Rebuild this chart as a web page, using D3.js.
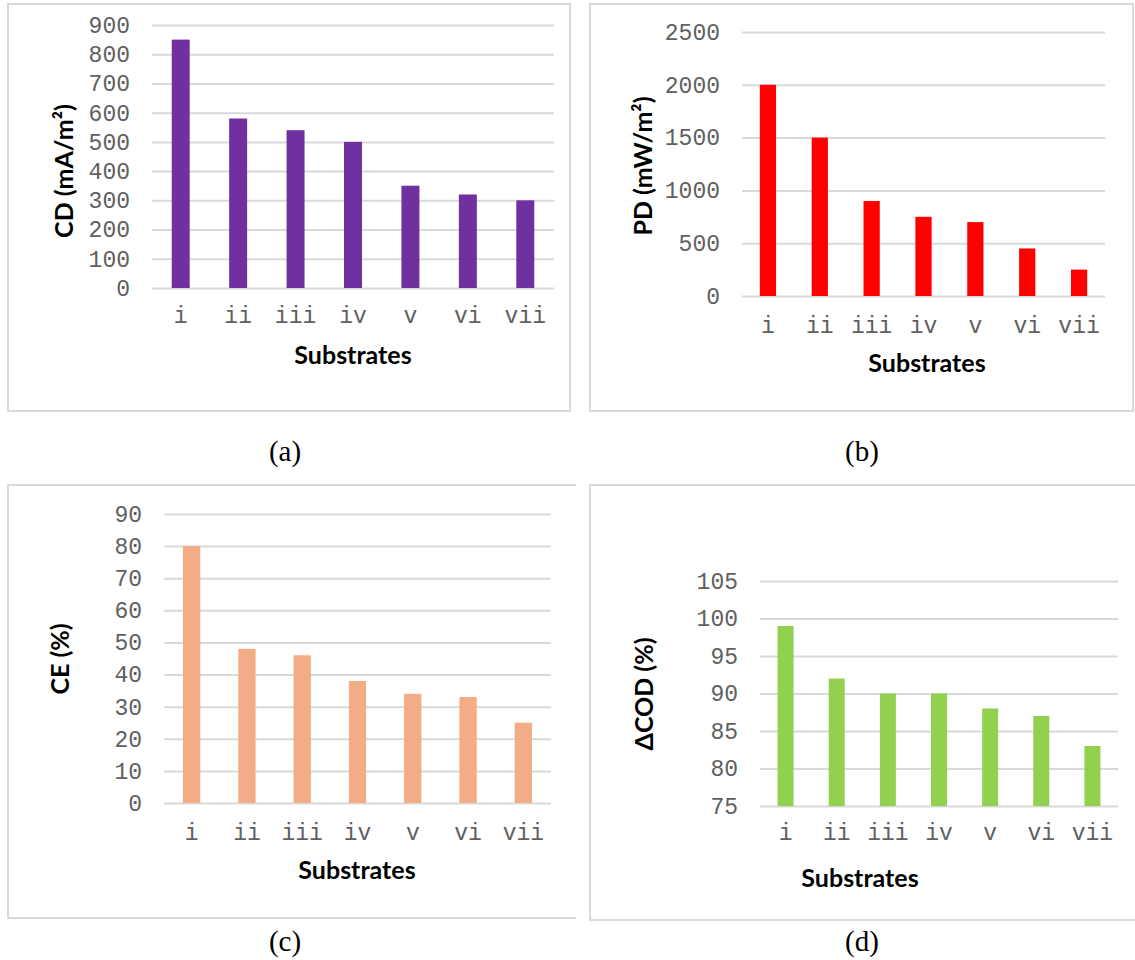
<!DOCTYPE html>
<html>
<head>
<meta charset="utf-8">
<script src="https://cdn.jsdelivr.net/npm/d3@7"></script>
<style>
  html, body { margin: 0; padding: 0; background: #fff; }
  svg { display: block; }
</style>
</head>
<body>
<svg id="fig" width="1135" height="960"></svg>
<script>
// Substrates shared by all four panels
const substrates = ["i", "ii", "iii", "iv", "v", "vi", "vii"];

// (a) current density, mA/m²
const cdValues = [850, 580, 540, 500, 350, 320, 300];
const cdTicks = [0, 100, 200, 300, 400, 500, 600, 700, 800, 900];

// (b) power density, mW/m²
const pdValues = [2000, 1500, 900, 750, 700, 450, 250];
const pdTicks = [0, 500, 1000, 1500, 2000, 2500];

// (c) coulombic efficiency, %
const ceValues = [80, 48, 46, 38, 34, 33, 25];
const ceTicks = [0, 10, 20, 30, 40, 50, 60, 70, 80, 90];

// (d) COD removal, %
const codValues = [99, 92, 90, 90, 88, 87, 83];
const codTicks = [75, 80, 85, 90, 95, 100, 105];

const svg = d3.select("#fig");
svg.append("rect").attr("width", 1135).attr("height", 960).attr("fill", "#fff");

const GRID = "#d9d9d9";
const TICK_TEXT = "#606060";
const MONO = "'Liberation Mono', 'Courier New', monospace";
const SANS = "Lato, 'Open Sans', sans-serif";
const SERIF = "'Liberation Serif', 'Times New Roman', serif";

// Panel layout: frame box, plot area, label anchors
const panels = [
  {
    values: cdValues, ticks: cdTicks, domain: [0, 900], color: "#7030a0",
    yTitle: "CD (mA/m²)", caption: "(a)",
    frame: { x0: 8, y0: 4, x1: 570, y1: 411, right: true },
    plot: { x0: 152, x1: 554, yTop: 25, yBottom: 288 },
    yTitlePos: [64, 171], xTitlePos: [353, 355], xLabelY: 315, captionPos: [285, 451]
  },
  {
    values: pdValues, ticks: pdTicks, domain: [0, 2500], color: "#ff0000",
    yTitle: "PD (mW/m²)", caption: "(b)",
    frame: { x0: 590, y0: 4, x1: 1133, y1: 411, right: true },
    plot: { x0: 742, x1: 1105, yTop: 32, yBottom: 296 },
    yTitlePos: [643, 166], xTitlePos: [927, 363], xLabelY: 325, captionPos: [862, 451]
  },
  {
    values: ceValues, ticks: ceTicks, domain: [0, 90], color: "#f3ac85",
    yTitle: "CE (%)", caption: "(c)",
    frame: { x0: 8, y0: 485, x1: 576, y1: 918, right: false },
    plot: { x0: 164, x1: 551, yTop: 514, yBottom: 803 },
    yTitlePos: [60, 659], xTitlePos: [357, 870], xLabelY: 832, captionPos: [285, 941]
  },
  {
    values: codValues, ticks: codTicks, domain: [75, 105], color: "#92d050",
    yTitle: "ΔCOD (%)", caption: "(d)",
    frame: { x0: 590, y0: 485, x1: 1135, y1: 920, right: false },
    plot: { x0: 760, x1: 1118, yTop: 581, yBottom: 806 },
    yTitlePos: [644, 694], xTitlePos: [860, 878], xLabelY: 832, captionPos: [862, 941]
  }
];

panels.forEach(p => {
  const g = svg.append("g");
  const f = p.frame;

  // chart-area border
  const framePath = f.right
    ? `M${f.x0},${f.y0}H${f.x1}V${f.y1}H${f.x0}Z`
    : `M${f.x1},${f.y0}H${f.x0}V${f.y1}H${f.x1}`;
  g.append("path").attr("d", framePath)
    .attr("fill", "none").attr("stroke", GRID).attr("stroke-width", 2);

  const x = d3.scaleBand()
    .domain(substrates)
    .range([p.plot.x0, p.plot.x1])
    .paddingInner(0.687)
    .paddingOuter(0.3435);

  const y = d3.scaleLinear()
    .domain(p.domain)
    .range([p.plot.yBottom, p.plot.yTop]);

  // value axis with horizontal gridlines
  const yAxis = g.append("g")
    .attr("transform", `translate(${p.plot.x0},0)`)
    .call(d3.axisLeft(y).tickValues(p.ticks).tickFormat(d3.format("d"))
      .tickSize(-(p.plot.x1 - p.plot.x0)).tickPadding(22));
  yAxis.select(".domain").remove();
  yAxis.selectAll(".tick line").attr("stroke", GRID).attr("stroke-width", 2);
  yAxis.selectAll(".tick text")
    .attr("fill", TICK_TEXT)
    .style("font-family", MONO)
    .style("font-size", "23px");

  // bars
  g.append("g").selectAll("rect")
    .data(p.values)
    .join("rect")
    .attr("x", (d, i) => x(substrates[i]))
    .attr("width", x.bandwidth())
    .attr("y", d => y(d))
    .attr("height", d => y(p.domain[0]) - y(d))
    .attr("fill", p.color);

  // category axis labels
  const xAxis = g.append("g")
    .attr("transform", `translate(0,${p.plot.yBottom})`)
    .call(d3.axisBottom(x).tickSize(0));
  xAxis.select(".domain").remove();
  xAxis.selectAll(".tick text")
    .attr("y", p.xLabelY - p.plot.yBottom)
    .attr("dy", "0.35em")
    .attr("fill", TICK_TEXT)
    .style("font-family", MONO)
    .style("font-size", "23px");

  // axis titles
  g.append("text")
    .attr("transform", `translate(${p.yTitlePos[0]},${p.yTitlePos[1]}) rotate(-90)`)
    .attr("text-anchor", "middle")
    .attr("dy", "0.35em")
    .style("font-family", SANS)
    .style("font-weight", 700)
    .style("font-size", "25px")
    .attr("fill", "#000")
    .text(p.yTitle);

  g.append("text")
    .attr("x", p.xTitlePos[0])
    .attr("y", p.xTitlePos[1])
    .attr("text-anchor", "middle")
    .attr("dy", "0.35em")
    .style("font-family", SANS)
    .style("font-weight", 700)
    .style("font-size", "25px")
    .attr("fill", "#000")
    .text("Substrates");

  // panel caption
  svg.append("text")
    .attr("x", p.captionPos[0])
    .attr("y", p.captionPos[1])
    .attr("text-anchor", "middle")
    .attr("dy", "0.35em")
    .style("font-family", SERIF)
    .style("font-size", "29px")
    .attr("fill", "#000")
    .text(p.caption);
});
</script>
</body>
</html>
